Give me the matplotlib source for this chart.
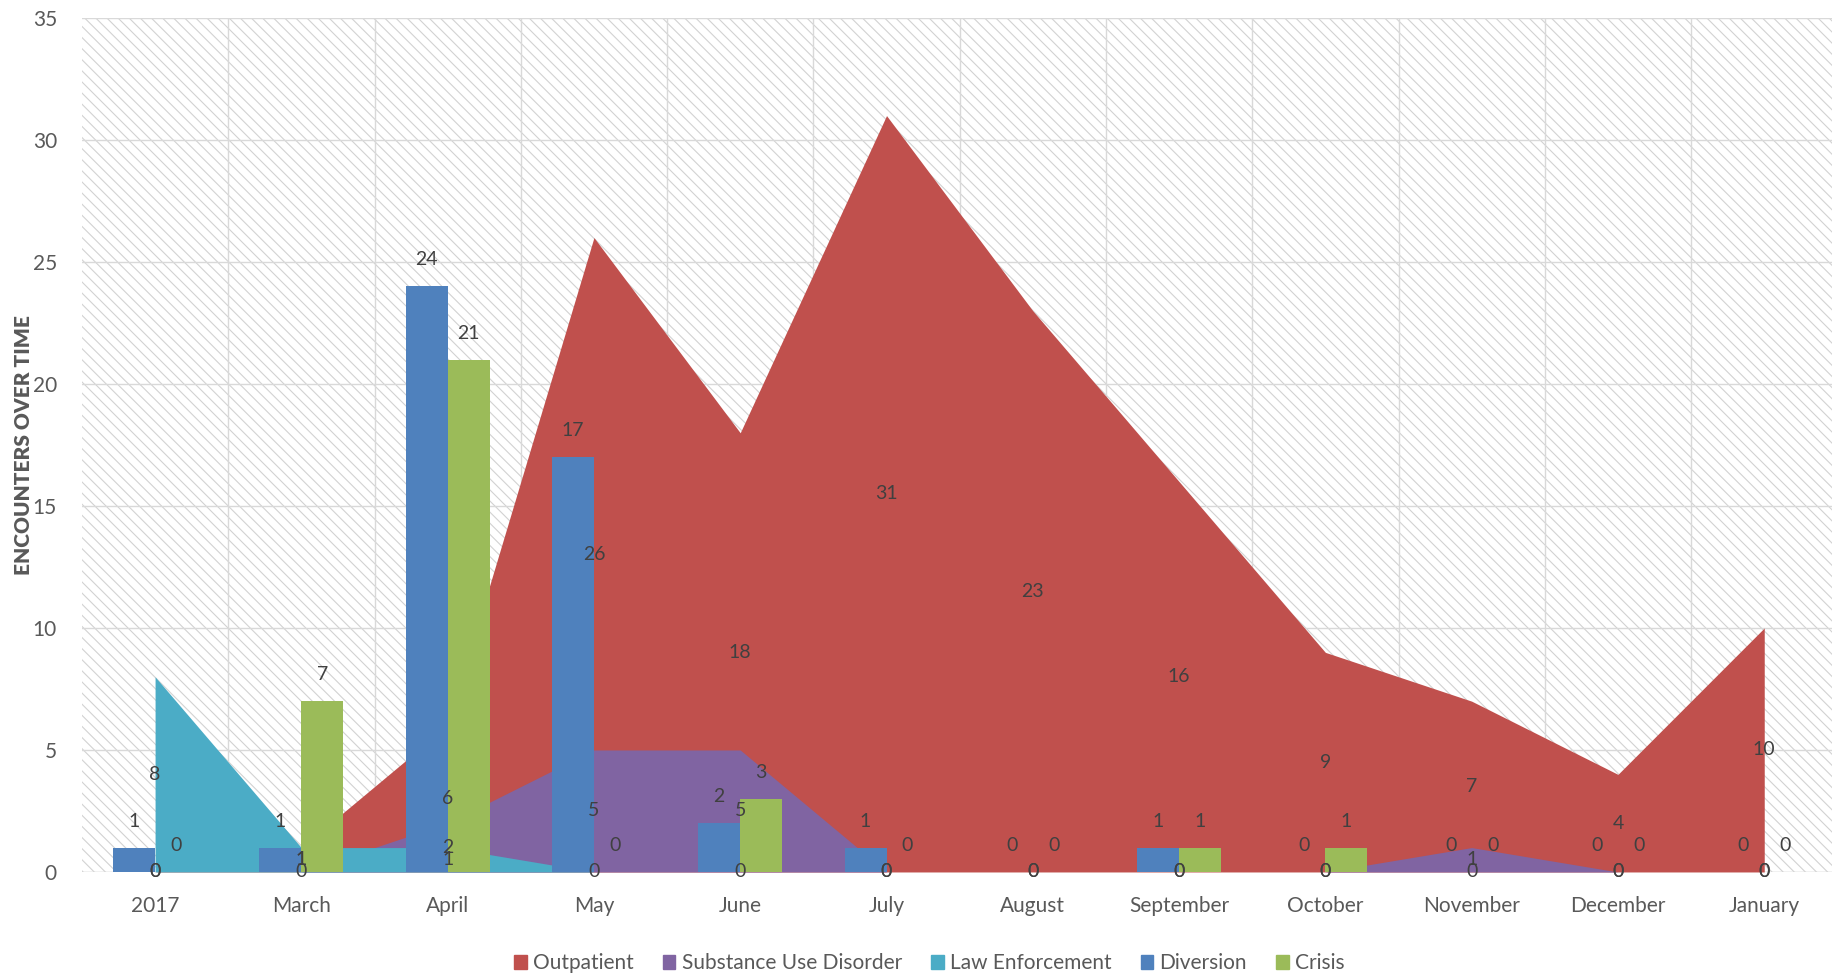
import matplotlib
matplotlib.use("Agg")
import matplotlib.pyplot as plt
from matplotlib.patches import Rectangle, Patch
import numpy as np

plt.rcParams['font.family'] = ['Lato', 'DejaVu Sans']
plt.rcParams['hatch.linewidth'] = 0.8

# monthly encounter counts
months = ['2017', 'March', 'April', 'May', 'June', 'July', 'August',
          'September', 'October', 'November', 'December', 'January']
outpatient = [0, 1, 6, 26, 18, 31, 23, 16, 9, 7, 4, 10]
substance_use = [0, 0, 2, 5, 5, 0, 0, 0, 0, 1, 0, 0]
law_enforcement = [8, 1, 1, 0, 0, 0, 0, 0, 0, 0, 0, 0]
diversion = [1, 1, 24, 17, 2, 1, 0, 1, 0, 0, 0, 0]
crisis = [0, 7, 21, 0, 3, 0, 0, 1, 1, 0, 0, 0]

c_out = '#C0504D'
c_sud = '#8064A2'
c_law = '#4BACC6'
c_div = '#4F81BD'
c_cri = '#9BBB59'
label_col = '#404040'
tick_col = '#595959'

fig = plt.figure(figsize=(18.33, 9.77), dpi=100)
ax = fig.add_axes([0.0447, 0.1075, 0.9553, 0.8741])

x = np.arange(len(months))

# hatched plot background
ax.add_patch(Rectangle((0, 0), 1, 1, transform=ax.transAxes, facecolor='white',
                       edgecolor='#d2d2d2', hatch='\\\\\\', lw=0, zorder=0))

# overlapping (non-stacked) areas, drawn back to front
ax.fill_between(x, outpatient, color=c_out, lw=0, zorder=2)
ax.fill_between(x, substance_use, color=c_sud, lw=0, zorder=3)
ax.fill_between(x, law_enforcement, color=c_law, lw=0, zorder=4)

# clustered bars in front
w = 0.287
ax.bar(x - w / 2, diversion, width=w, color=c_div, zorder=5)
ax.bar(x + w / 2, crisis, width=w, color=c_cri, zorder=5)

# value labels: areas at half height, bars above the top
fs = 14
for series in (outpatient, substance_use, law_enforcement):
    for xi, v in zip(x, series):
        ax.text(xi, v / 2, str(v), ha='center', va='center', fontsize=fs,
                color=label_col, zorder=7)
for offs, series in ((-w / 2, diversion), (w / 2, crisis)):
    for xi, v in zip(x, series):
        ax.annotate(str(v), (xi + offs, v), xytext=(0, 19), textcoords='offset points',
                    ha='center', va='center', fontsize=fs, color=label_col, zorder=7)

ax.set_xlim(-0.5, 11.47)
ax.set_ylim(0, 35)
ax.set_yticks(range(0, 36, 5))
ax.set_xticks(x)
ax.set_xticklabels(months)
ax.set_xticks(np.arange(0.5, 11.5, 1), minor=True)
ax.tick_params(axis='both', which='both', length=0, labelsize=15, colors=tick_col)
ax.tick_params(axis='x', pad=17)
ax.tick_params(axis='y', pad=18)
ax.grid(axis='y', which='major', color='#d9d9d9', lw=1)
ax.grid(axis='x', which='minor', color='#d9d9d9', lw=1)
ax.set_axisbelow(True)
for s in ax.spines.values():
    s.set_visible(False)
ax.axhline(0, color='#d9d9d9', lw=1, zorder=1)

ax.set_ylabel('ENCOUNTERS OVER TIME', fontsize=15, fontweight='heavy',
              color=tick_col, labelpad=0)

handles = [Patch(color=c_out), Patch(color=c_sud), Patch(color=c_law),
           Patch(color=c_div), Patch(color=c_cri)]
names = ['Outpatient', 'Substance Use Disorder', 'Law Enforcement', 'Diversion', 'Crisis']
leg = fig.legend(handles, names, loc='center', bbox_to_anchor=(0.507, 0.014), ncol=5,
                 frameon=False, fontsize=15, handlelength=0.6, handleheight=0.6,
                 handletextpad=0.3, columnspacing=1.4)
for t in leg.get_texts():
    t.set_color(tick_col)

fig.savefig('out.png', dpi=100)
